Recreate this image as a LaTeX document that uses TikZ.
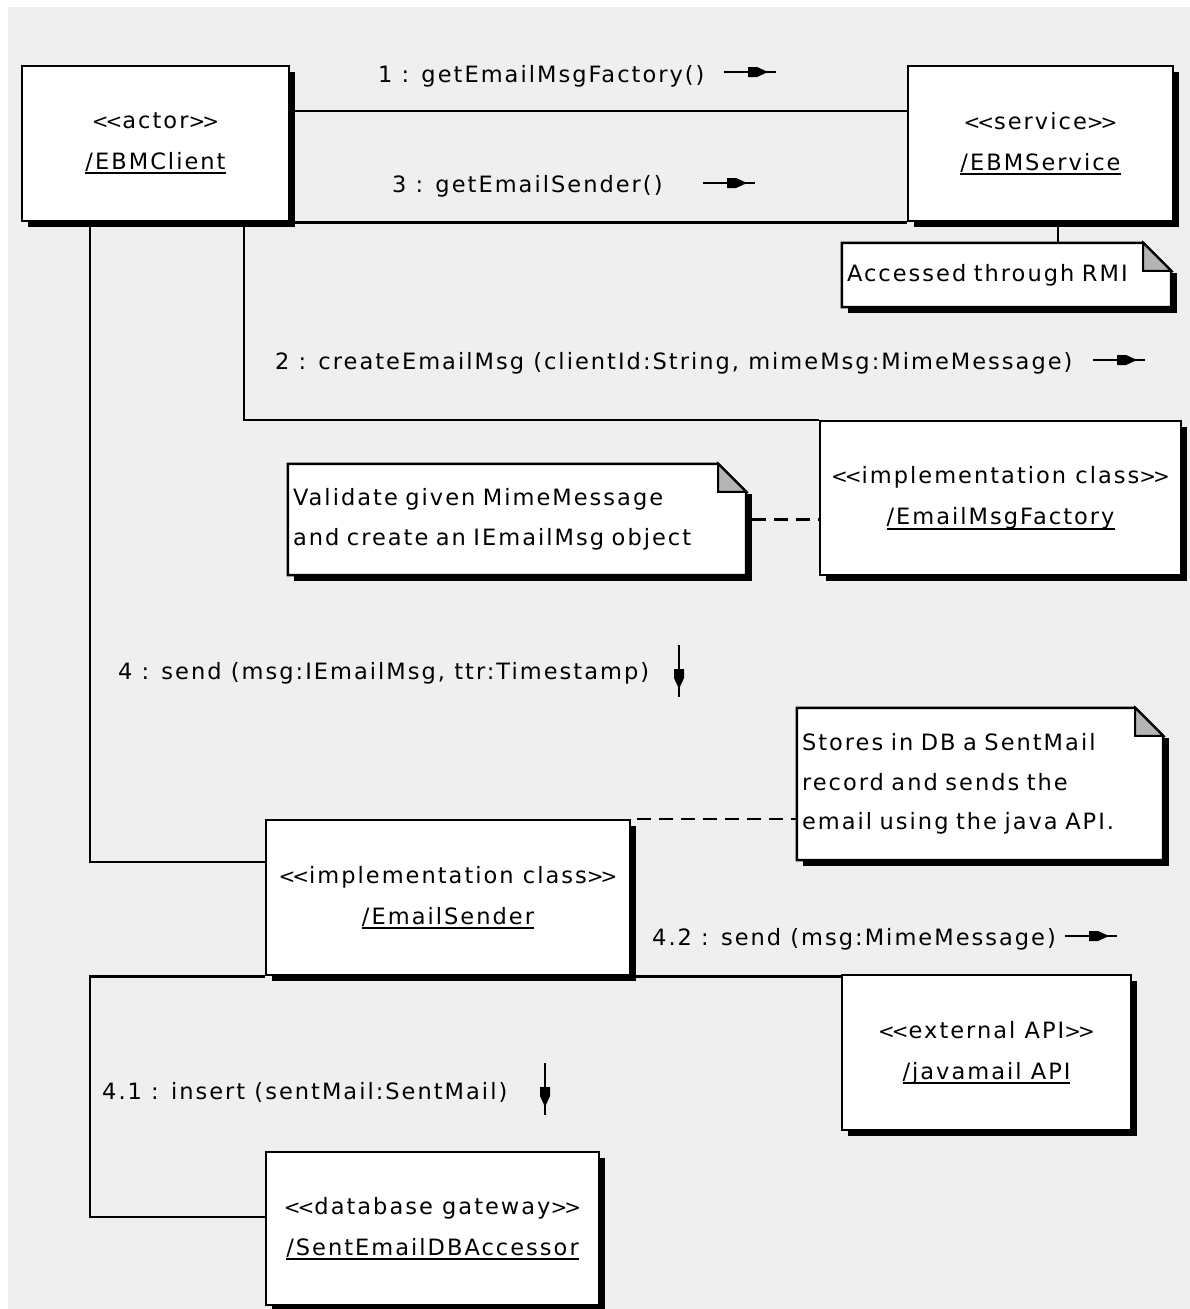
\documentclass[tikz,border=0pt]{standalone}
\usepackage{fontspec}
\setmainfont{DejaVu Sans}[LetterSpace=9]
\usetikzlibrary{shadows,calc}
\pgfdeclarelayer{backdrop}
\pgfdeclarelayer{notes}
\pgfsetlayers{backdrop,notes,main}
\definecolor{bggray}{HTML}{EFEFEF}
\definecolor{foldgray}{HTML}{B4B4B4}
\newcommand\uname[1]{\setbox0\hbox{#1}\rlap{\rule[-5pt]{\wd0}{2pt}}\box0}
\newcommand\sopen{{\fontsize{20}{20}\selectfont<\kern-0.15em<}}
\newcommand\sclose{{\fontsize{20}{20}\selectfont>\kern-0.15em>}}
\begin{document}
\begin{tikzpicture}[x=1pt,y=-1pt,
  font=\fontsize{22.5}{41}\selectfont,
  umlbox/.style={draw, line width=2.5pt, fill=white, inner sep=0, align=center,
    drop shadow={shadow xshift=6pt, shadow yshift=-6pt, fill=black, opacity=1}},
  notebox/.style={inner sep=0, inner xsep=5pt, align=left, font=\fontsize{22.5}{39.5}\selectfont},
  msglabel/.style={anchor=base west, inner sep=0},
  conn/.style={draw, line width=2.5pt},
  noteconn/.style={draw, line width=2.5pt, dash pattern=on 14pt off 8pt},
  hmsg/.pic={\draw[line width=2.5pt] (0,0) -- (52,0);
    \fill (24,-5) -- (33,-5) -- (44,0) -- (33,5) -- (24,5) -- cycle;},
  vmsg/.pic={\draw[line width=2.5pt] (0,0) -- (0,52);
    \fill (-5,24) -- (-5,33) -- (0,44) -- (5,33) -- (5,24) -- cycle;}
]
\useasboundingbox (0,0) rectangle (1190,1309);
\begin{pgfonlayer}{backdrop}
  \fill[white] (0,0) rectangle (1190,1309);
  \fill[bggray] (8,7) rectangle (1190,1309);
\end{pgfonlayer}

% boxes
\node[umlbox, minimum width=267pt, minimum height=155pt] (client) at (155.5,143.5)
  {\sopen actor\sclose\\\uname{/EBMClient}};
\node[umlbox, minimum width=265pt, minimum height=155pt] (service) at (1040.5,143.5)
  {\sopen service\sclose\\\uname{/EBMService}};
\node[umlbox, minimum width=361pt, minimum height=154pt] (factory) at (1000.5,498)
  {\sopen implementation class\sclose\\\uname{/EmailMsgFactory}};
\node[umlbox, minimum width=364pt, minimum height=155pt] (sender) at (448,897.5)
  {\sopen implementation class\sclose\\\uname{/EmailSender}};
\node[umlbox, minimum width=289pt, minimum height=155pt] (javamail) at (986.5,1052.5)
  {\sopen external API\sclose\\\uname{/javamail API}};
\node[umlbox, minimum width=333pt, minimum height=153pt] (db) at (432.5,1228.5)
  {\sopen database gateway\sclose\\\uname{/SentEmailDBAccessor}};

% notes
\node[notebox, text width=319pt, minimum height=64pt] (rmi) at (1006.5,275)
  {Accessed through RMI};
\node[notebox, text width=448pt, minimum height=111pt] (validate) at (517,519.5)
  {Validate given MimeMessage\\and create an IEmailMsg object};
\node[notebox, text width=356pt, minimum height=152pt] (stores) at (980,784)
  {Stores in DB a SentMail\\record and sends the\\email using the java API.};

\begin{pgfonlayer}{notes}
\foreach \n in {rmi,validate,stores}{
  \fill ([yshift=-30pt]\n.north east) rectangle ([shift={(6pt,-6pt)}]\n.south east);
  \fill ([xshift=6pt]\n.south west) rectangle ([shift={(6pt,-6pt)}]\n.south east);
  \draw[line width=2.5pt, fill=white] (\n.north west) -- ([xshift=-28pt]\n.north east)
    -- ([yshift=-28pt]\n.north east) -- (\n.south east) -- (\n.south west) -- cycle;
  \draw[line width=2pt, fill=foldgray] ([xshift=-28pt]\n.north east) -- ([shift={(-28pt,-28pt)}]\n.north east)
    -- ([yshift=-28pt]\n.north east) -- cycle;
}
\end{pgfonlayer}

% connectors
\path[conn] ([yshift=32.5pt]client.east) -- ([yshift=32.5pt]service.west);
\path[conn] (client.south east) -- (client.south east -| service.west);
\path[conn] ([xshift=88.5pt]client.south) |- (factory.north west);
\path[conn] ([xshift=-65.5pt]client.south) |- ([yshift=35.5pt]sender.west);
\coordinate (k41) at ([xshift=-65.5pt]client.south |- sender.south west);
\path[conn] (sender.south west) -- (k41) |- ([yshift=11.5pt]db.west);
\path[conn] (sender.south east) -- (sender.south east -| javamail.west);
\path[conn] ([xshift=17.5pt]service.south) -- ([xshift=17.5pt]service.south |- rmi.north);
\path[noteconn] ([xshift=6pt]validate.east) -- (validate.east -| factory.west);
\path[noteconn] ([xshift=6pt]sender.north east) -- (sender.north east -| stores.west);

% message labels
\node[msglabel] (m1) at (378,82) {1 : getEmailMsgFactory()};
\pic at (724,72) {hmsg};
\node[msglabel] (m3) at (392,192) {3 : getEmailSender()};
\pic at (703,183) {hmsg};
\node[msglabel] (m2) at (275,369) {2 : createEmailMsg (clientId:String, mimeMsg:MimeMessage)};
\pic at (1093,360) {hmsg};
\node[msglabel] (m4) at (118,679) {4 : send (msg:IEmailMsg, ttr:Timestamp)};
\pic at (679,645) {vmsg};
\node[msglabel] (m42) at (652,945) {4.2 : send (msg:MimeMessage)};
\pic at (1065,936) {hmsg};
\node[msglabel] (m41) at (102,1099) {4.1 : insert (sentMail:SentMail)};
\pic at (545,1063) {vmsg};
\end{tikzpicture}
\end{document}
